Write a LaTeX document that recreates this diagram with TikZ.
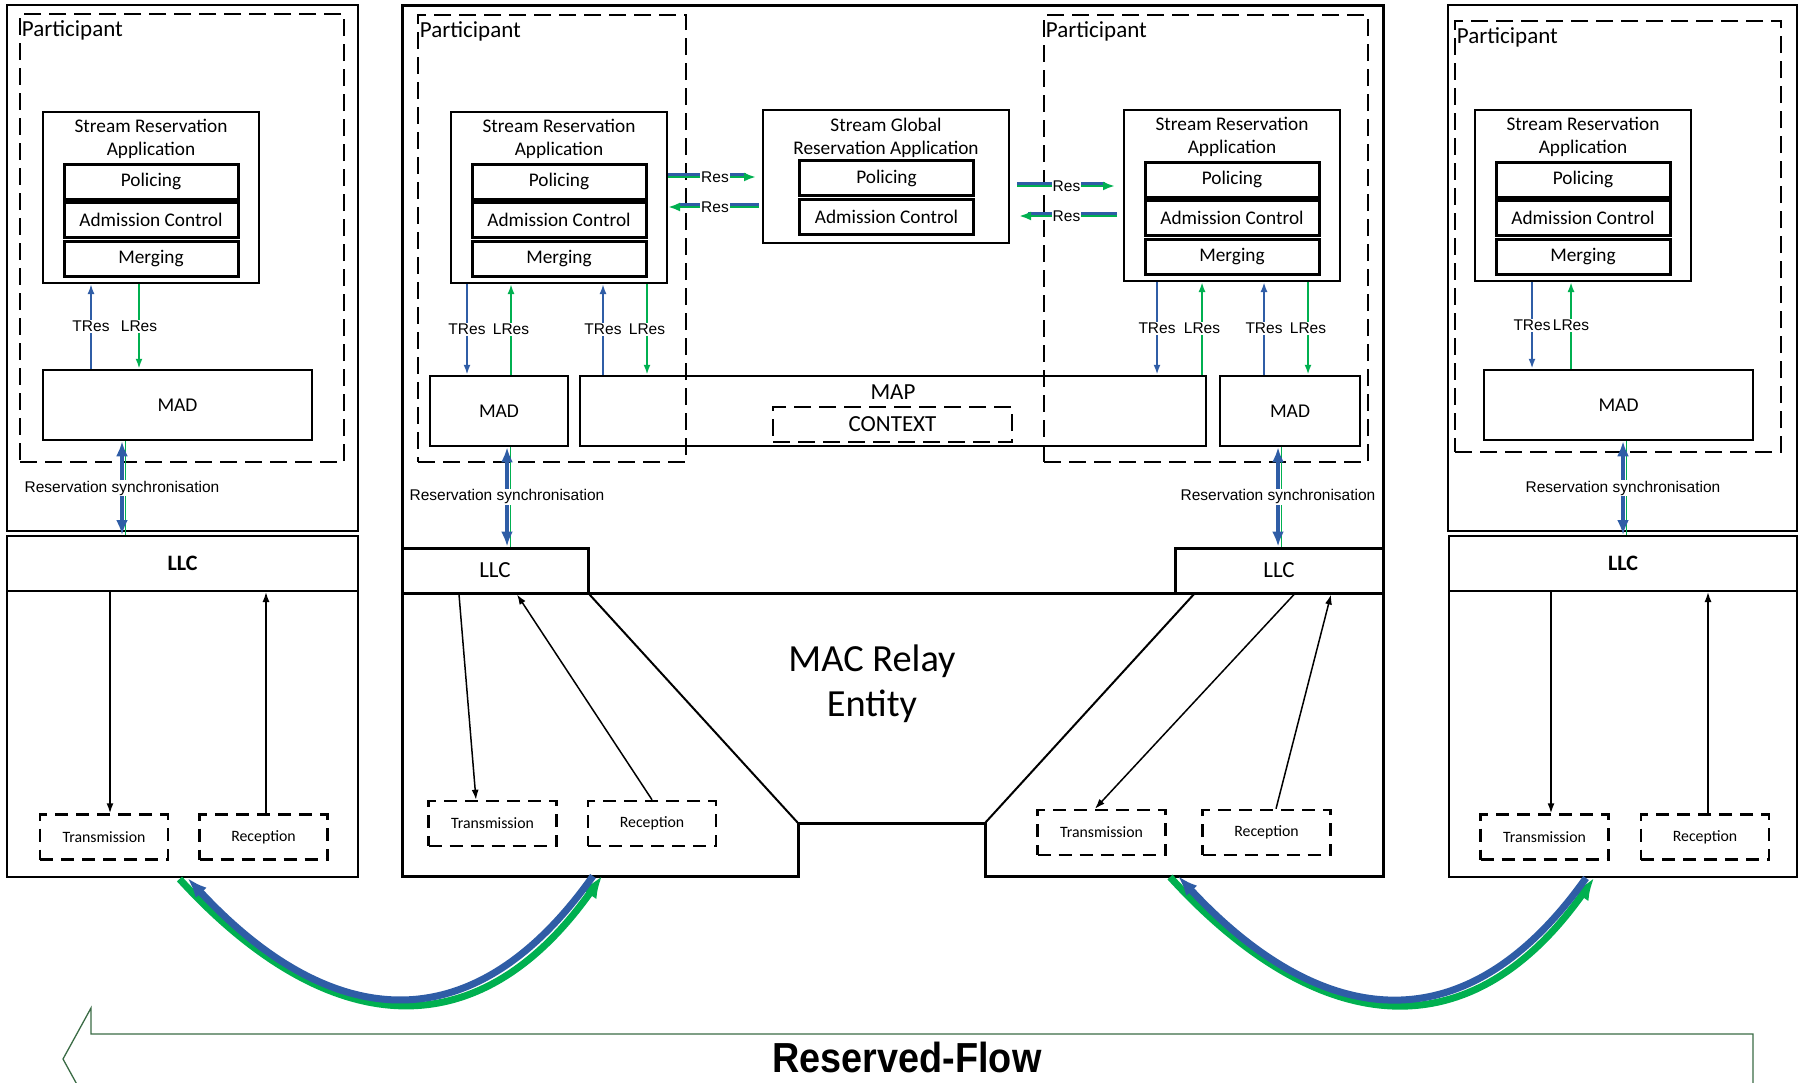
\documentclass[tikz,border=0pt]{standalone}
\usepackage{fontspec}
\setmainfont{Carlito}
\newfontfamily\arialfont{Liberation Sans}
\newfontfamily\narrowfont[FakeStretch=0.9]{Liberation Sans}
\usetikzlibrary{fit}
\usetikzlibrary{arrows.meta}
\definecolor{resblue}{HTML}{2F5DA6}
\definecolor{resgreen}{HTML}{00B050}
\definecolor{flowgreen}{HTML}{3A6B45}

\begin{document}
\begin{tikzpicture}[x=1pt, y=-1pt,
    box/.style={draw, line width=2pt, inner sep=0pt},
    subbox/.style={draw, line width=3pt, inner sep=0pt, minimum width=174pt,
      minimum height=35pt, font=\fontsize{19.3}{23}\selectfont},
    partbox/.style={draw, line width=2.5pt, dash pattern=on 17pt off 8pt, inner sep=0pt},
    portbox/.style={draw, line width=2.5pt, dash pattern=on 13pt off 8pt, inner sep=0pt,
      minimum width=128pt, minimum height=45pt, font=\fontsize{15.8}{19}\selectfont},
    partlabel/.style={anchor=base west, inner sep=0pt, font=\fontsize{23}{26}\selectfont},
    madlabel/.style={font=\fontsize{19.5}{22}\selectfont},
    reslabel/.style={font=\arialfont\fontsize{15.5}{18}\selectfont, fill=white, inner sep=1pt},
    tres/.style={draw=resblue, line width=2pt, -{Latex[length=10pt,width=7pt]}},
    lres/.style={draw=resgreen, line width=2pt, -{Latex[length=10pt,width=7pt]}},
    llcarrow/.style={black, line width=1.5pt, -{Latex[length=10pt,width=7pt]}},
    syncb/.style={draw=resblue, line width=4.5pt,
      {Latex[length=15pt,width=12pt]}-{Latex[length=15pt,width=12pt]}},
    syncg/.style={draw=resgreen, line width=1.5pt},
    resb/.style={draw=resblue, line width=2.5pt},
    resg/.style={draw=resgreen, line width=2.5pt, -{Latex[length=12pt,width=9pt]}},
    flowb/.style={draw=resblue, line width=7pt},
    flowg/.style={draw=resgreen, line width=7pt}]
  \clip (0,0) rectangle (1798,1082);

  % end stations and bridge
  \node[box, fit={(7,5) (358,531)}] (stationL) {};
  \node[box, fit={(1448,5) (1797,531)}] (stationR) {};
  \draw[line width=3pt] (402,548) -- (402,5) -- (1383,5) -- (1383,548);

  % participants
  \node[partbox, fit={(20,14) (344,462)}] (partL) {};
  \node[partbox, fit={(418,15) (686,462)}] (partML) {};
  \node[partbox, fit={(1044,15) (1368,462)}] (partMR) {};
  \node[partbox, fit={(1455,21) (1781,452)}] (partR) {};
  \foreach \n in {L,ML,MR,R}
    \node[partlabel] (plab\n) at ([xshift=3pt,yshift=-23.5pt]part\n.north west) {Participant};

  % stream reservation applications
  \foreach \n/\xa/\ya in {L/43/112, ML/451/112, MR/1124/110, R/1475/110}
  {
    \node[box, fit={(\xa,\ya) (\xa+216,\ya+171)}] (sra\n) {};
    \node[align=center, inner sep=0pt, anchor=north, font=\fontsize{19.3}{23}\selectfont]
      (sratitle\n) at (\xa+108,\ya+6.5) {Stream Reservation\\Application};
    \node[subbox] (pol\n) at (\xa+108,\ya+69.5) {Policing};
    \node[subbox] (adm\n) at (\xa+108,\ya+108) {Admission Control};
    \node[subbox] (mer\n) at (\xa+108,\ya+146.5) {Merging};
  }
  \node[box, fit={(763,110) (1009,243)}] (sga) {};
  \node[align=center, inner sep=0pt, anchor=north, font=\fontsize{19.3}{23}\selectfont]
    (sgatitle) at (886,117.5) {Stream Global\\Reservation Application};
  \node[subbox] (polG) at (886.5,178) {Policing};
  \node[subbox] (admG) at (886.5,216.5) {Admission Control};

  % MAD / MAP
  \node[box, line width=2.5pt, fit={(43,370) (312,440)}] (madL) {};
  \node[box, line width=2.5pt, fit={(430,376) (568,446)}] (madML) {};
  \node[box, line width=2.5pt, fit={(580,376) (1206,446)}] (mapM) {};
  \node[box, line width=2.5pt, fit={(1220,376) (1360,446)}] (madMR) {};
  \node[box, line width=2.5pt, fit={(1484,370) (1753,440)}] (madR) {};
  \foreach \n in {L,ML,MR,R}
    \node[madlabel] (madtext\n) at (mad\n.center) {MAD};
  \node[font=\fontsize{23}{26}\selectfont] (maplab) at (893,392) {MAP};
  \node[partbox, fit={(773,407) (1012,442)}] (ctx) {};
  \node[font=\fontsize{23}{26}\selectfont] (ctxlab) at (ctx.center) {CONTEXT};

  % LLC
  \node[box, fit={(7,536) (358,591)}] (llcL) {};
  \node[box, fit={(7,591) (358,877)}] (phyL) {};
  \node[box, fit={(1449,536) (1797,591)}] (llcR) {};
  \node[box, fit={(1449,591) (1797,877)}] (phyR) {};
  \node[box, line width=3pt, fit={(402,548) (588,593)}] (llcML) {};
  \node[box, line width=3pt, fit={(1175,548) (1383,593)}] (llcMR) {};
  \node[font=\bfseries\fontsize{22}{26}\selectfont] (llctextL) at (llcL.center) {LLC};
  \node[font=\bfseries\fontsize{22}{26}\selectfont] (llctextR) at (llcR.center) {LLC};
  \node[font=\fontsize{23}{26}\selectfont] (llctextML) at (llcML.center) {LLC};
  \node[font=\fontsize{23}{26}\selectfont] (llctextMR) at (llcMR.center) {LLC};
  \draw[line width=3pt] (402,593) -- (402,876) -- (798,876) -- (798,823) -- (985,823)
    -- (985,876) -- (1383,876) -- (1383,593) -- cycle;
  \draw[line width=2pt] (llcML.south east) -- (798,823);
  \draw[line width=2pt] (1195,593) -- (985,823);
  \node[align=center, font=\fontsize{38.4}{45}\selectfont] (relay) at (872,684) {MAC Relay\\Entity};

  % ports
  \foreach \n/\xt/\xr/\yc in {L/104/263.5/837, ML/492.5/652/823.5, MR/1101.5/1266.5/832.5, R/1544.5/1705/837}
  {
    \node[portbox] (tx\n) at (\xt,\yc) {Transmission};
    \node[portbox] (rx\n) at (\xr,\yc) {Reception};
  }
  \draw[llcarrow] (llcL.south -| 110,0) -- (txL.north -| 110,0);
  \draw[llcarrow] (rxL.north -| 266,0) -- (llcL.south -| 266,0);
  \draw[llcarrow] (llcML.south -| 459,0) -- (txML.north -| 476,0);
  \draw[llcarrow] (rxML.north) -- (llcML.south -| 517,0);
  \draw[llcarrow] (llcMR.south -| 1294,0) -- (txMR.north -| 1095,0);
  \draw[llcarrow] (rxMR.north -| 1276,0) -- (llcMR.south -| 1331,0);
  \draw[llcarrow] (llcR.south -| 1551,0) -- (txR.north -| 1551,0);
  \draw[llcarrow] (rxR.north -| 1708,0) -- (llcR.south -| 1708,0);

  % TRes / LRes
  \draw[tres] (madL.north -| 91,0) -- node[reslabel]{TRes} (sraL.south -| 91,0);
  \draw[lres] (sraL.south -| 139,0) -- node[reslabel]{LRes} (madL.north -| 139,0);
  \draw[tres] (sraML.south -| 467,0) -- node[reslabel]{TRes} (madML.north -| 467,0);
  \draw[lres] (madML.north -| 511,0) -- node[reslabel]{LRes} (sraML.south -| 511,0);
  \draw[tres] (mapM.north -| 603,0) -- node[reslabel]{TRes} (sraML.south -| 603,0);
  \draw[lres] (sraML.south -| 647,0) -- node[reslabel]{LRes} (mapM.north -| 647,0);
  \draw[tres] (sraMR.south -| 1157,0) -- node[reslabel]{TRes} (mapM.north -| 1157,0);
  \draw[lres] (mapM.north -| 1202,0) -- node[reslabel]{LRes} (sraMR.south -| 1202,0);
  \draw[tres] (madMR.north -| 1264,0) -- node[reslabel]{TRes} (sraMR.south -| 1264,0);
  \draw[lres] (sraMR.south -| 1308,0) -- node[reslabel]{LRes} (madMR.north -| 1308,0);
  \draw[tres] (sraR.south -| 1532,0) -- node[reslabel]{TRes} (madR.north -| 1532,0);
  \draw[lres] (madR.north -| 1571,0) -- node[reslabel]{LRes} (sraR.south -| 1571,0);

  % Res exchange with the global application
  \draw[resb, yshift=1.5pt, shorten >=16pt] (sraML.east |- 0,176) -- (sga.west |- 0,176);
  \draw[resg, yshift=-1pt, shorten >=6pt] (sraML.east |- 0,176) -- node[reslabel]{Res} (sga.west |- 0,176);
  \draw[resb, yshift=1.5pt, shorten <=3pt, shorten >=12pt] (sga.west |- 0,206) -- (sraML.east |- 0,206);
  \draw[resg, yshift=-1pt, shorten <=3pt] (sga.west |- 0,206) -- node[reslabel]{Res} (sraML.east |- 0,206);
  \draw[resb, yshift=1.5pt, shorten <=7pt, shorten >=18pt] (sga.east |- 0,185) -- (sraMR.west |- 0,185);
  \draw[resg, yshift=-1pt, shorten <=7pt, shorten >=8pt] (sga.east |- 0,185) -- node[reslabel]{Res} (sraMR.west |- 0,185);
  \draw[resb, yshift=1.5pt, shorten <=6pt, shorten >=18pt] (sraMR.west |- 0,215) -- (sga.east |- 0,215);
  \draw[resg, yshift=-1pt, shorten <=6pt, shorten >=9pt] (sraMR.west |- 0,215) -- node[reslabel]{Res} (sga.east |- 0,215);

  % reservation synchronisation
  \foreach \m/\s/\xb/\xg in {madL/llcL/122/125.5, madML/llcML/507/510.5, madMR/llcMR/1278/1281.5, madR/llcR/1623/1626.5}
  {
    \draw[syncg] (\m.south -| \xg,0) -- (\s.north -| \xg,0);
    \draw[syncb] (\m.south -| \xb,0) -- node[reslabel]{Reservation synchronisation} (\s.north -| \xb,0);
  }

  % reserved flow between stations
  \coordinate (bridgeInL) at (597,876);
  \coordinate (bridgeOutR) at (1178,876);
  \draw[flowg, -{Latex[length=22pt,width=18pt]}] ([xshift=-3pt,yshift=-1pt]phyL.south)
    .. controls +(134,147) and +(-134,188) .. ([xshift=5pt]bridgeInL);
  \draw[flowb, {Latex[length=20pt,width=15pt]}-] ([xshift=5pt]phyL.south)
    .. controls +(130,140) and +(-130,183) .. ([xshift=-4pt]bridgeInL);
  \draw[flowg, -{Latex[length=22pt,width=18pt]}] ([xshift=-8pt,yshift=-1pt]bridgeOutR)
    .. controls +(134,147) and +(-134,188) .. ([xshift=-29pt]phyR.south);
  \draw[flowb, {Latex[length=20pt,width=15pt]}-] (bridgeOutR)
    .. controls +(130,140) and +(-130,183) .. ([xshift=-37pt]phyR.south);

  \draw[flowgreen, line width=1.3pt] (1753,1095) -- (1753,1034) -- (91,1034) -- (91,1008)
    -- (63,1059) -- (91,1110);
  \node[anchor=base, inner sep=0pt, font=\narrowfont\bfseries\fontsize{42}{46}\selectfont]
    (flowlab) at (907,1072) {Reserved-Flow};
\end{tikzpicture}
\end{document}
